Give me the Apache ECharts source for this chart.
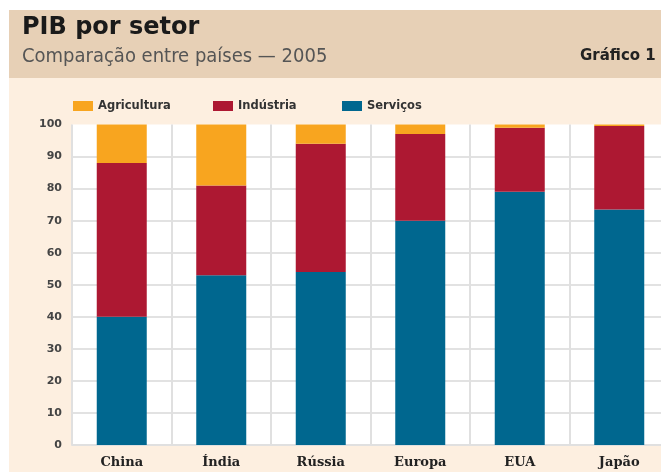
<!DOCTYPE html>
<html>
<head>
<meta charset="utf-8">
<script src="https://cdn.jsdelivr.net/npm/echarts@6/dist/echarts.min.js"></script>
<style>
html,body{margin:0;padding:0;background:#fff;}
#chart{width:661px;height:472px;}
</style>
</head>
<body>
<div id="chart"></div>
<script>
const categories = ['China', 'Índia', 'Rússia', 'Europa', 'EUA', 'Japão'];
const servicos = [40, 53, 54, 70, 79, 73.5];
const industria = [48, 28, 40, 27, 20, 26];
const agricultura = [12, 19, 6, 3, 1, 0.5];
const yTicks = [0, 10, 20, 30, 40, 50, 60, 70, 80, 90, 100];

const cOrange = '#F8A51F', cRed = '#AD1832', cBlue = '#00678F';

const chart = echarts.init(document.getElementById('chart'), null, {renderer: 'canvas'});
const legendText = {fontFamily: 'DejaVu Sans', fontWeight: 'bold', fontSize: 11.5, color: '#333'};
function mkLegend(name, left) {
  return {
    data: [name], left: left, top: 100, itemWidth: 20, itemHeight: 10, itemGap: 0,
    icon: 'rect', textStyle: legendText, padding: 0, selectedMode: false
  };
}
chart.setOption({
  backgroundColor: '#ffffff',
  animation: false,
  graphic: [
    {type: 'rect', left: 9, top: 78, shape: {width: 660, height: 400}, style: {fill: '#FDEFE0'}, z: -10},
    {type: 'rect', left: 9, top: 10, shape: {width: 660, height: 68}, style: {fill: '#E7D0B6'}, z: -10},
    {type: 'text', left: 22, top: 16, style: {text: 'PIB por setor', fontFamily: 'DejaVu Sans', fontWeight: 'bold', fontSize: 24, fill: '#1a1a1a'}},
    {type: 'text', left: 22, top: 47, style: {text: 'Comparação entre países — 2005', fontFamily: 'DejaVu Sans Condensed', fontSize: 20, fill: '#555'}},
    {type: 'text', left: 580, top: 49, style: {text: 'Gráfico 1', fontFamily: 'DejaVu Sans', fontWeight: 'bold', fontSize: 15, fill: '#222'}}
  ],
  legend: [mkLegend('Agricultura', 73), mkLegend('Indústria', 213), mkLegend('Serviços', 342)],
  grid: {left: 72, width: 597, top: 124.5, bottom: 27, show: true, backgroundColor: '#ffffff', borderWidth: 0,
    containLabel: false, outerBoundsMode: 'none'},
  xAxis: {
    type: 'category', data: categories,
    axisLine: {show: true, lineStyle: {color: '#e0e0e0', width: 2}},
    axisTick: {show: false},
    splitLine: {show: true, lineStyle: {color: '#e0e0e0', width: 2}},
    axisLabel: {fontFamily: 'DejaVu Serif', fontWeight: 'bold', fontSize: 13, color: '#222', margin: 11}
  },
  yAxis: {
    type: 'value', min: 0, max: 100, interval: 10,
    axisLine: {show: false}, axisTick: {show: false},
    splitLine: {showMaxLine: false, lineStyle: {color: '#e2e2e2', width: 2}},
    axisLabel: {fontFamily: 'DejaVu Sans', fontWeight: 'bold', fontSize: 11, color: '#444', margin: 10,
      formatter: function(v){ return yTicks.indexOf(v) >= 0 ? String(v) : ''; }}
  },
  series: [
    {name: 'Serviços', type: 'bar', stack: 'pib', data: servicos, barWidth: 50, itemStyle: {color: cBlue}},
    {name: 'Indústria', type: 'bar', stack: 'pib', data: industria, barWidth: 50, itemStyle: {color: cRed}},
    {name: 'Agricultura', type: 'bar', stack: 'pib', data: agricultura, barWidth: 50, itemStyle: {color: cOrange}}
  ]
});
</script>
</body>
</html>
